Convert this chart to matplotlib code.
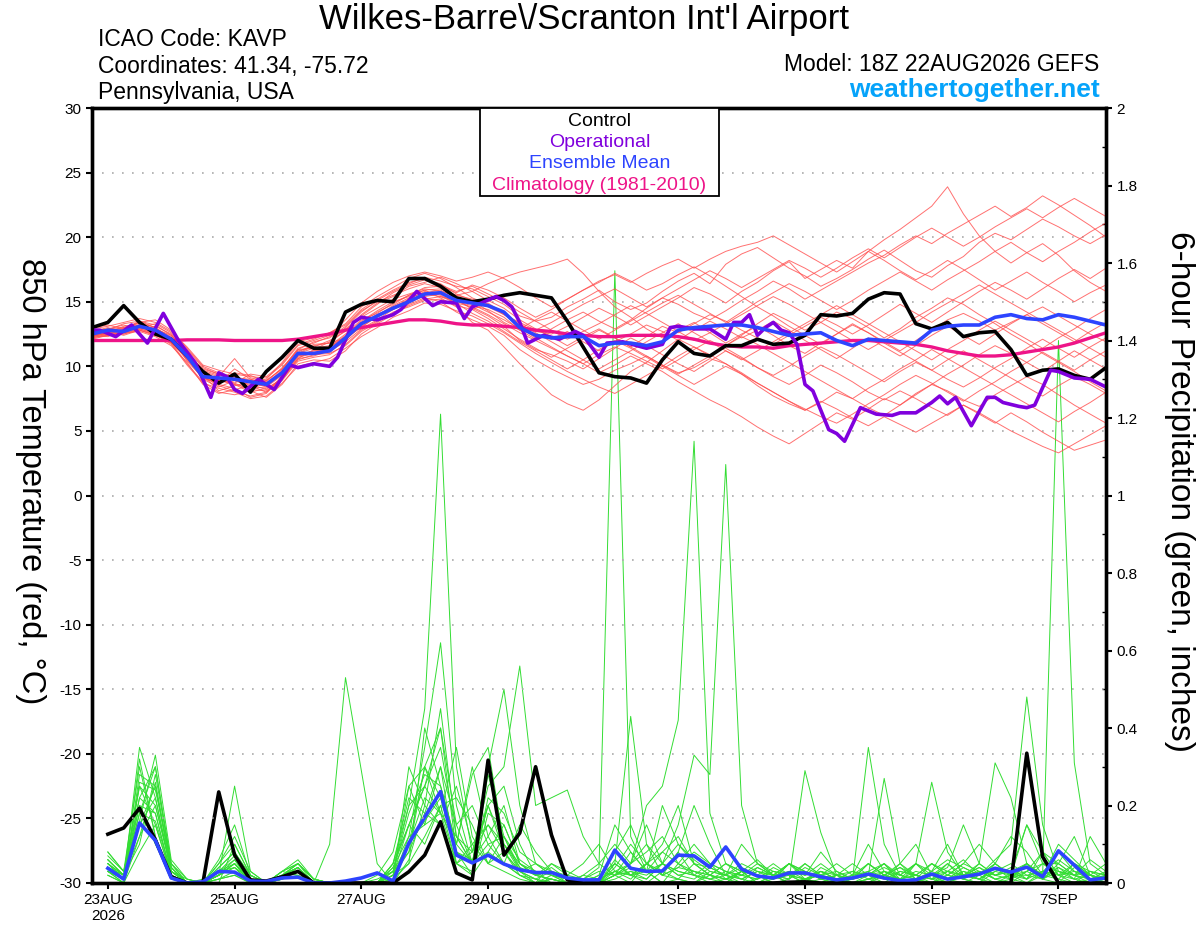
import numpy as np
import pandas as pd
import matplotlib
matplotlib.use("Agg")
import matplotlib.pyplot as plt
from matplotlib.patches import Rectangle

plt.rcParams['font.family'] = ['Liberation Sans', 'DejaVu Sans']

# 6-hourly times for temperature (from model run) and precipitation (6-h totals)
times = pd.date_range("2026-08-22 18:00", periods=65, freq="6h")
precip_times = pd.date_range("2026-08-23 00:00", periods=64, freq="6h")

tick_dates = pd.to_datetime(["2026-08-23", "2026-08-25", "2026-08-27", "2026-08-29",
                             "2026-09-01", "2026-09-03", "2026-09-05", "2026-09-07"])
tick_labels = ["23AUG\n2026", "25AUG", "27AUG", "29AUG", "1SEP", "3SEP", "5SEP", "7SEP"]

# 850 hPa temperature (C)
control_t = [13.0, 13.4, 14.7, 13.4, 12.5, 12.1, 10.8, 9.6, 8.7, 9.4, 8.0, 9.6,
             10.7, 12.0, 11.4, 11.4, 14.2, 14.8, 15.1, 15.0, 16.8, 16.8, 16.2,
             15.3, 15.0, 15.2, 15.5, 15.7, 15.5, 15.3, 13.5, 11.5, 9.5, 9.2,
             9.1, 8.7, 10.5, 11.9, 11.0, 10.8, 11.6, 11.6, 12.1, 11.7, 11.8,
             12.4, 14.0, 13.9, 14.1, 15.2, 15.7, 15.6, 13.3, 12.9, 13.4,
             12.3, 12.6, 12.7, 11.3, 9.3, 9.7, 9.8, 9.3, 9.0, 9.9]
mean_t = [12.5, 12.8, 12.7, 13.1, 12.8, 12.1, 10.8, 9.2, 9.1, 9.0, 8.8, 8.6,
          9.5, 11.0, 11.0, 11.2, 12.2, 13.3, 13.9, 14.5, 15.0, 15.6, 15.7,
          15.1, 14.9, 14.7, 14.2, 13.0, 12.4, 12.2, 12.3, 12.3, 11.6, 11.8,
          11.8, 11.6, 11.9, 12.8, 13.0, 13.1, 13.2, 13.2, 13.0, 12.7, 12.4,
          12.5, 12.6, 12.0, 11.6, 12.1, 12.0, 11.9, 11.8, 12.8, 13.1,
          13.2, 13.2, 13.8, 14.0, 13.7, 13.6, 14.0, 13.8, 13.5, 13.2]
clim_t = [12.0, 12.0, 12.0, 12.0, 12.0, 12.0, 12.05, 12.05, 12.05, 12.0, 12.0, 12.0,
          12.0, 12.1, 12.3, 12.5, 12.8, 13.0, 13.2, 13.4, 13.6, 13.6, 13.5,
          13.3, 13.2, 13.2, 13.1, 13.0, 12.8, 12.7, 12.5, 12.4, 12.3, 12.3,
          12.4, 12.4, 12.4, 12.3, 12.1, 11.8, 11.6, 11.5, 11.5, 11.4, 11.6,
          11.7, 11.8, 11.9, 12.0, 12.0, 11.9, 11.8, 11.7, 11.5, 11.2,
          11.0, 10.8, 10.8, 10.9, 11.1, 11.3, 11.5, 11.8, 12.2, 12.6]

# operational run, hours after 18Z 22AUG
oper_hours = [0, 3, 9, 15, 21, 27, 33, 39, 42, 45, 48, 51, 54, 57, 63, 69, 75, 78, 84, 90,
              93, 99, 102, 108, 114, 117, 123, 129, 132, 138, 141, 144, 153, 156, 159, 162,
              165, 171, 177, 183, 186, 192, 195, 201, 210, 216, 219, 222, 228, 234, 240, 243,
              246, 249, 252, 255, 258, 261, 264, 267, 270, 273, 279, 282, 285, 291, 297, 303,
              306, 312, 318, 321, 324, 327, 333, 339, 342, 345, 351, 354, 357, 363, 366, 372,
              378, 384]
oper_t = [12.8, 12.8, 12.3, 13.2, 11.8, 14.1, 11.9, 10.3, 9.0, 7.6, 9.5, 9.2, 8.2, 7.9, 9.0,
          8.2, 10.1, 9.9, 10.2, 10.0, 10.7, 13.4, 13.8, 13.6, 14.0, 14.4, 15.8, 14.7, 15.0,
          14.9, 13.7, 14.6, 15.4, 15.1, 14.6, 13.4, 11.8, 12.4, 12.1, 12.7, 12.4, 10.7, 11.8,
          11.9, 11.4, 11.7, 13.0, 13.1, 12.9, 12.9, 12.1, 13.4, 13.4, 14.0, 12.4, 13.0, 13.4,
          12.8, 12.6, 11.7, 8.6, 8.1, 5.1, 4.8, 4.2, 6.8, 6.3, 6.2, 6.4, 6.4, 7.2, 7.7, 7.1,
          7.6, 5.4, 7.6, 7.6, 7.2, 6.9, 6.8, 7.0, 9.7, 9.6, 9.1, 9.0, 8.4]

# ensemble members, temperature
members_t = [
    [12.3, 12.6, 12.9, 13.4, 13.0, 12.2, 10.6, 9.0, 8.4, 8.9, 8.6, 8.2, 9.1, 10.6, 11.3, 11.9, 13.0, 14.2, 15.1, 15.8, 16.4, 16.9, 16.6,
     16.2, 16.0, 15.4, 14.8, 13.9, 13.5, 13.8, 14.6, 15.2, 15.9, 15.0, 14.4, 14.9, 15.8, 16.6, 17.2, 16.4, 17.9, 18.7, 19.2, 18.4, 17.6,
     17.0, 16.2, 16.8, 17.5, 18.3, 19.0, 18.2, 17.4, 16.9, 17.8, 18.5, 19.6, 20.3, 19.8, 20.6, 21.4, 20.8, 20.1, 19.5, 20.2],
    [12.7, 12.9, 13.2, 12.8, 12.4, 11.8, 10.2, 8.8, 8.0, 7.8, 8.1, 7.6, 8.6, 10.2, 10.5, 10.4, 11.2, 12.5, 13.3, 14.0, 14.8, 15.3, 15.0,
     14.2, 13.6, 13.1, 12.4, 11.3, 10.5, 9.8, 9.2, 8.6, 9.0, 9.7, 10.2, 10.8, 10.1, 9.5, 9.9, 10.6, 10.2, 9.4, 8.5, 7.7, 7.1,
     6.6, 7.2, 8.0, 7.5, 6.8, 6.2, 7.0, 7.9, 8.6, 8.1, 7.4, 6.9, 7.8, 8.5, 9.2, 8.6, 7.8, 7.0, 6.3, 5.6],
    [12.4, 12.5, 12.8, 13.0, 13.3, 12.6, 11.2, 9.6, 9.2, 10.6, 9.1, 8.9, 9.8, 11.4, 11.8, 12.3, 12.9, 13.8, 14.5, 15.2, 15.6, 16.0, 15.8,
     15.5, 15.8, 16.4, 16.9, 17.3, 17.6, 17.9, 18.3, 17.2, 15.8, 14.6, 13.8, 12.9, 12.2, 12.8, 13.4, 12.6, 11.8, 12.5, 13.1, 12.4, 11.6,
     11.0, 11.8, 12.5, 13.2, 12.6, 11.9, 11.2, 12.0, 12.8, 13.6, 14.1, 13.5, 12.8, 13.4, 14.0, 14.6, 13.9, 13.2, 12.5, 11.9],
    [12.2, 12.4, 12.5, 12.9, 12.6, 11.9, 10.5, 9.2, 8.6, 8.3, 7.6, 7.9, 9.2, 10.8, 11.0, 11.5, 12.4, 13.5, 14.3, 15.0, 15.4, 15.9, 15.3,
     14.6, 13.4, 12.8, 11.5, 10.2, 9.0, 7.8, 7.1, 6.6, 7.4, 8.5, 9.6, 10.3, 11.2, 12.1, 11.5, 10.8, 11.6, 12.4, 13.3, 14.1, 13.5,
     12.8, 13.4, 14.2, 13.7, 13.0, 12.2, 12.9, 13.8, 14.5, 15.3, 14.8, 14.0, 13.3, 12.5, 11.8, 11.0, 10.3, 9.6, 8.8, 8.1],
    [12.6, 12.9, 13.0, 13.4, 13.6, 12.8, 11.4, 10.0, 9.5, 9.2, 8.9, 9.0, 10.3, 11.9, 12.2, 12.6, 13.3, 14.6, 15.4, 16.1, 16.8, 17.2, 16.8,
     16.1, 15.3, 14.8, 14.0, 13.2, 12.7, 12.5, 13.1, 13.8, 14.5, 13.9, 13.2, 13.9, 14.6, 15.3, 16.1, 15.6, 14.9, 15.8, 16.5, 17.4, 18.1,
     16.8, 17.5, 18.2, 17.6, 18.9, 19.8, 20.6, 21.5, 22.4, 23.9, 21.8, 20.1, 18.9, 18.0, 18.8, 19.5, 18.6, 17.4, 16.5, 15.8],
    [13.0, 13.2, 12.9, 13.5, 13.2, 12.4, 11.0, 9.4, 8.9, 8.6, 8.3, 8.4, 9.6, 11.0, 11.6, 11.8, 12.8, 13.9, 14.8, 15.7, 16.3, 16.7, 16.4,
     15.6, 15.1, 14.3, 13.4, 12.8, 12.1, 12.9, 13.6, 14.2, 13.5, 12.9, 13.6, 14.5, 15.3, 14.8, 14.1, 13.6, 14.3, 15.1, 15.8, 16.6, 16.0,
     15.2, 15.9, 16.6, 17.3, 18.0, 18.6, 19.4, 20.1, 19.5, 20.3, 21.0, 21.7, 22.4, 21.6, 22.3, 23.2, 22.5, 21.7, 20.9, 20.0],
    [12.3, 12.7, 12.4, 12.8, 12.5, 12.0, 10.9, 9.5, 9.0, 8.6, 8.0, 8.3, 9.0, 10.5, 10.9, 11.0, 11.6, 12.7, 13.4, 14.2, 14.6, 15.1, 15.2,
     14.7, 14.4, 14.9, 14.1, 13.0, 12.2, 11.5, 10.8, 10.2, 10.9, 11.5, 11.0, 10.4, 9.8, 10.5, 11.3, 12.0, 11.4, 10.7, 9.9, 9.2, 8.6,
     9.3, 10.1, 9.5, 8.8, 8.0, 7.4, 8.1, 7.5, 6.8, 6.2, 7.0, 6.3, 5.6, 6.4, 5.7, 4.9, 4.2, 3.5, 3.9, 4.3],
    [12.8, 12.6, 13.1, 13.3, 12.9, 12.3, 10.4, 9.1, 8.7, 9.5, 9.3, 8.8, 9.9, 11.2, 11.5, 12.0, 12.7, 14.0, 14.9, 15.4, 16.2, 16.5, 16.9,
     16.4, 15.8, 15.1, 14.5, 13.6, 12.9, 12.3, 11.6, 12.3, 12.9, 12.2, 11.5, 12.3, 13.1, 12.6, 13.3, 14.0, 13.5, 12.8, 12.2, 11.7, 12.4,
     13.1, 13.8, 13.2, 12.5, 13.2, 14.0, 14.8, 14.1, 13.4, 14.2, 15.0, 15.8, 16.5, 15.9, 15.2, 16.0, 16.8, 17.5, 16.8, 17.6],
    [12.5, 12.8, 12.6, 13.1, 12.7, 11.9, 10.7, 9.3, 8.1, 8.5, 8.8, 8.4, 9.3, 10.9, 11.2, 11.3, 12.1, 13.1, 13.8, 14.6, 15.2, 15.8, 15.5,
     14.9, 14.6, 14.0, 13.3, 12.6, 12.0, 11.4, 10.8, 10.2, 9.5, 10.1, 10.8, 10.2, 9.6, 8.8, 8.1, 7.4, 6.8, 6.1, 5.3, 4.6, 4.0,
     4.8, 5.6, 6.4, 5.9, 6.7, 7.5, 7.0, 7.8, 8.6, 9.4, 10.1, 10.9, 11.6, 11.0, 10.3, 9.6, 10.4, 11.2, 10.5, 9.8],
    [12.4, 12.3, 12.7, 13.0, 12.8, 12.2, 11.1, 9.7, 9.3, 9.1, 9.0, 8.7, 9.7, 11.3, 11.4, 11.6, 12.5, 13.6, 14.1, 14.9, 15.5, 16.1, 16.2,
     15.7, 16.3, 15.9, 15.3, 14.5, 13.8, 14.4, 15.2, 15.9, 16.6, 17.1, 16.5, 17.2, 17.8, 18.3, 17.6, 18.3, 18.9, 19.3, 19.6, 20.1, 19.4,
     18.7, 18.0, 17.3, 18.1, 18.9, 18.2, 17.4, 16.7, 17.4, 18.2, 17.5, 16.7, 15.9, 16.6, 17.3, 16.5, 15.8, 15.0, 15.7, 16.3],
    [12.6, 12.5, 12.9, 13.2, 12.7, 12.0, 10.9, 9.0, 8.8, 9.2, 8.7, 8.5, 9.4, 10.8, 11.2, 11.1, 12.0, 13.2, 14.0, 14.4, 15.0, 15.4, 15.6,
     15.0, 14.7, 14.4, 13.8, 12.8, 12.5, 12.1, 12.7, 11.9, 11.2, 11.9, 12.5, 13.2, 12.7, 12.0, 12.8, 13.5, 12.9, 12.2, 12.8, 13.5, 12.8,
     12.0, 11.3, 10.6, 11.4, 12.2, 11.5, 10.8, 11.6, 12.4, 13.1, 12.4, 11.7, 12.5, 13.3, 14.0, 13.3, 12.6, 11.9, 12.7, 13.4],
    [12.1, 12.4, 12.6, 12.7, 12.3, 11.6, 10.3, 8.6, 7.9, 8.2, 8.5, 8.0, 8.9, 10.4, 10.7, 10.9, 11.7, 12.8, 13.5, 14.1, 14.7, 15.2, 15.4,
     15.1, 14.5, 13.9, 13.1, 12.0, 11.3, 10.9, 10.4, 9.8, 10.6, 11.4, 12.2, 11.6, 10.9, 10.2, 9.6, 10.4, 11.2, 10.6, 9.9, 9.3, 10.0,
     10.8, 11.5, 10.9, 10.2, 9.5, 8.8, 9.6, 10.3, 9.7, 9.0, 8.4, 9.1, 9.9, 10.6, 11.4, 12.1, 11.4, 10.7, 11.5, 12.2],
    [12.9, 13.1, 13.4, 13.7, 13.4, 12.7, 11.5, 10.1, 9.7, 9.4, 9.2, 9.1, 10.1, 11.6, 12.0, 12.4, 13.6, 14.9, 15.8, 16.5, 17.0, 17.3, 17.0,
     16.6, 16.9, 17.3, 16.8, 16.1, 15.3, 14.6, 15.2, 15.9, 16.5, 17.2, 16.6, 15.9, 16.4, 17.1, 17.7, 17.0, 16.2, 15.4, 14.6, 13.9, 13.1,
     12.4, 11.7, 12.5, 13.3, 12.6, 11.8, 11.1, 10.4, 9.7, 10.5, 11.2, 10.5, 9.8, 9.1, 8.4, 7.7, 8.5, 9.2, 8.6, 7.9],
    [12.3, 12.6, 12.8, 12.9, 13.1, 12.5, 11.0, 9.8, 9.4, 8.9, 8.4, 8.6, 9.5, 11.1, 11.7, 11.8, 12.2, 13.0, 13.9, 14.7, 15.3, 15.7, 15.9,
     15.3, 14.8, 14.2, 13.6, 12.9, 13.6, 14.2, 13.5, 12.8, 12.1, 12.8, 13.5, 14.2, 14.9, 15.5, 14.8, 14.1, 13.4, 14.2, 15.0, 15.7, 16.4,
     15.8, 15.1, 14.4, 15.1, 15.9, 16.6, 17.3, 16.6, 15.9, 16.7, 17.4, 18.1, 18.9, 19.6, 18.8, 18.1, 18.9, 19.6, 20.4, 21.1],
    [12.7, 13.0, 12.6, 12.9, 12.5, 11.7, 10.1, 8.7, 8.3, 8.0, 7.5, 7.7, 8.7, 10.0, 10.3, 10.6, 11.4, 12.3, 13.0, 13.8, 14.3, 14.9, 14.8,
     14.3, 13.9, 13.3, 12.6, 11.8, 11.0, 10.3, 9.6, 9.0, 8.4, 7.9, 8.6, 9.3, 10.0, 10.8, 11.5, 10.9, 10.2, 9.5, 8.7, 8.0, 7.3,
     6.7, 6.1, 5.6, 6.3, 7.1, 7.8, 8.6, 9.3, 8.7, 8.0, 7.3, 8.1, 8.8, 9.6, 10.3, 11.1, 10.4, 9.7, 10.5, 11.2],
    [12.5, 12.7, 13.0, 13.2, 12.9, 12.4, 11.3, 9.9, 9.4, 9.0, 8.5, 8.9, 9.8, 11.3, 11.9, 12.2, 13.1, 14.3, 15.0, 15.5, 16.0, 16.4, 16.1,
     15.4, 15.0, 14.6, 14.0, 13.4, 12.8, 13.4, 14.1, 14.8, 15.4, 16.0, 15.3, 14.6, 15.3, 16.0, 16.7, 17.4, 16.8, 16.1, 16.8, 17.5, 18.2,
     17.6, 16.9, 17.6, 18.4, 19.1, 18.4, 19.2, 20.0, 20.7, 20.0, 19.3, 20.0, 20.8, 21.5, 22.2, 21.5, 22.3, 23.0, 22.3, 21.6],
    [12.2, 12.5, 12.7, 13.0, 12.6, 11.8, 10.6, 9.1, 8.9, 8.7, 8.2, 8.1, 9.0, 10.6, 10.8, 11.2, 11.9, 12.9, 13.6, 14.4, 14.9, 15.5, 15.7,
     15.2, 14.4, 13.7, 12.9, 12.1, 11.4, 10.7, 11.4, 12.1, 12.8, 12.2, 11.5, 10.8, 10.1, 9.4, 10.1, 10.8, 11.6, 12.3, 11.7, 11.0, 10.3,
     9.6, 8.9, 8.2, 7.5, 8.3, 9.0, 9.8, 10.5, 11.3, 10.6, 9.9, 9.2, 8.5, 7.8, 7.1, 6.4, 5.7, 6.5, 7.2, 8.0],
    [12.6, 12.8, 13.3, 13.5, 13.0, 12.1, 10.8, 9.6, 9.0, 8.7, 9.4, 9.2, 10.2, 11.7, 12.1, 12.6, 13.2, 14.4, 15.2, 15.9, 16.5, 16.8, 16.3,
     15.8, 16.2, 15.6, 15.0, 14.2, 13.5, 12.8, 12.1, 12.7, 13.3, 14.0, 14.7, 14.1, 13.4, 12.7, 12.0, 12.6, 13.3, 14.0, 14.7, 15.4, 14.8,
     14.1, 13.4, 12.7, 12.0, 11.3, 12.0, 12.7, 13.4, 14.2, 14.9, 15.6, 16.3, 15.6, 14.9, 14.2, 13.5, 12.8, 12.1, 11.4, 10.7],
    [12.4, 12.6, 12.5, 12.8, 12.4, 11.9, 10.7, 9.3, 8.7, 9.8, 9.0, 8.6, 9.6, 11.0, 11.4, 11.5, 12.3, 13.4, 14.2, 14.8, 15.5, 15.9, 16.0,
     15.5, 15.2, 14.7, 14.1, 13.3, 12.6, 11.9, 11.2, 10.5, 9.8, 10.5, 11.2, 11.9, 12.6, 13.3, 12.6, 11.9, 11.2, 10.5, 11.2, 11.9, 12.6,
     13.3, 14.0, 14.7, 14.0, 13.3, 12.6, 11.9, 11.2, 10.5, 11.3, 12.0, 12.8, 13.5, 12.8, 12.1, 11.4, 12.2, 12.9, 13.7, 14.4],
    [12.3, 12.4, 12.6, 13.1, 12.8, 12.1, 10.9, 9.2, 8.5, 8.1, 7.7, 8.0, 9.2, 10.7, 11.0, 11.4, 12.3, 13.3, 14.0, 14.6, 15.1, 15.6, 15.4,
     14.9, 14.1, 13.5, 12.7, 11.9, 11.2, 10.5, 9.8, 10.5, 11.3, 12.0, 11.4, 10.7, 10.0, 9.3, 8.6, 9.3, 10.0, 9.4, 8.7, 8.0, 7.3,
     6.6, 7.3, 6.7, 6.0, 5.4, 6.1, 5.5, 4.9, 5.6, 6.3, 7.0, 6.4, 5.7, 5.0, 4.4, 3.8, 3.3, 4.0, 4.7, 5.4],
]

# 6-hour precipitation (inches)
control_p = [0.126, 0.142, 0.193, 0.111, 0.016, 0, 0, 0.235, 0.072, 0.008, 0.005, 0.016, 0.03, 0, 0, 0,
             0, 0, 0, 0.029, 0.072, 0.158, 0.026, 0.008, 0.317, 0.072, 0.129, 0.30, 0.124, 0.008, 0, 0,
             0, 0, 0, 0, 0, 0, 0, 0, 0, 0, 0, 0.002, 0.003, 0, 0, 0,
             0, 0, 0, 0, 0, 0, 0, 0, 0, 0, 0.335, 0.068, 0, 0, 0, 0]
mean_p = [0.038, 0.01, 0.155, 0.11, 0.013, 0, 0.003, 0.03, 0.028, 0.005, 0.004, 0.013, 0.015, 0, 0, 0.005,
          0.013, 0.026, 0.005, 0.103, 0.17, 0.236, 0.072, 0.052, 0.072, 0.049, 0.034, 0.027, 0.027, 0.013, 0.008, 0.008,
          0.085, 0.038, 0.03, 0.031, 0.072, 0.07, 0.041, 0.093, 0.036, 0.018, 0.013, 0.026, 0.026, 0.016, 0.008, 0.013,
          0.023, 0.013, 0.006, 0.008, 0.023, 0.01, 0.016, 0.023, 0.038, 0.028, 0.041, 0.016, 0.083, 0.046, 0.008, 0.013]

members_p = [
    [.05, .01, .22, .18, .02, 0, 0, .04, .08, .01, 0, .02, .03, 0, 0, 0,
     0, 0, .05, .2, .45, 1.21, .3, .08, .15, .1, .05, .02, .04, .01, 0, 0,
     .05, .02, 0, .03, .08, .02, 0, .01, 0, .04, .02, 0, 0, .03, .01, 0,
     .02, 0, 0, .05, .01, 0, .02, .04, .01, 0, .03, .08, .02, 0, .01, 0],
    [.03, 0, .15, .25, .04, 0, 0, .02, .05, 0, 0, .03, .05, .01, 0, 0,
     0, 0, .02, .15, .25, .35, .12, .05, .2, .08, .03, 0, .05, .02, .01, .04,
     1.58, .12, .03, 0, .05, .02, .01, 0, .03, 0, .02, .05, .01, 0, .02, 0,
     0, .03, .01, 0, .02, .05, .01, 0, .03, .02, .05, .01, 0, .04, .02, .01],
    [.08, .03, .3, .12, .01, 0, 0, 0, .1, .02, 0, .01, .04, 0, 0, 0,
     0, 0, 0, .3, .2, .15, .25, .1, .05, .12, .03, .01, 0, 0, .02, .05,
     .1, .05, .2, .25, .42, 1.14, .18, .05, .03, .02, 0, .01, .04, .02, 0, .01,
     .05, .02, 0, .01, 0, .03, .06, .02, 0, .01, .05, .02, .04, .01, 0, .02],
    [.04, .02, .18, .3, .05, .01, 0, .05, .12, .03, 0, .02, .03, 0, 0, 0,
     0, 0, .04, .12, .35, .62, .2, .05, .28, .12, .04, .02, .01, 0, 0, .02,
     .05, .43, .1, .05, .15, .33, .28, 1.08, .2, .05, .02, 0, .01, .03, .01, 0,
     0, .02, .04, .01, 0, .02, .01, 0, .05, .02, 0, .03, .01, .05, .02, 0],
    [.02, 0, .12, .2, .03, 0, 0, .03, .04, 0, 0, .01, .02, 0, 0, 0,
     0, 0, .03, .08, .18, .3, .15, .2, .1, .05, .02, 0, .01, 0, 0, 0,
     .02, 0, .05, .03, .01, 0, .02, .05, .03, 0, .01, .02, 0, .04, .02, .01,
     .05, .02, .01, 0, .03, .06, .04, .02, .05, .12, .08, .02, 1.4, .31, .05, .02],
    [.06, .02, .25, .15, .02, 0, 0, .02, .06, .01, 0, .02, .04, 0, .1, .53,
     .29, .05, 0, .1, .3, .4, .15, .05, .3, .5, .2, .05, .02, 0, 0, 0,
     .03, .01, .05, .02, .01, 0, .03, .02, 0, .01, .04, .02, 0, .01, 0, .02,
     .02, .05, 0, .01, .02, 0, .03, .01, 0, .02, .05, .01, .03, .02, 0, .01],
    [.03, .01, .35, .22, .03, 0, 0, .01, .02, 0, 0, .03, .05, .01, 0, 0,
     0, .02, .08, .25, .15, .18, .05, .08, .25, .3, .56, .2, .22, .24, .12, .05,
     .02, .04, .03, 0, .01, .05, .02, 0, .03, .02, 0, 0, .01, .02, 0, 0,
     .01, 0, .03, .02, 0, .01, 0, .02, .04, .01, 0, .02, .01, 0, .03, .02],
    [.05, .02, .1, .28, .05, 0, 0, .06, .15, .02, 0, .01, .03, 0, 0, 0,
     0, 0, .01, .05, .4, .25, .1, .3, .12, .05, .02, .01, .03, .02, .05, .1,
     .03, .05, .1, .02, .04, .08, .05, .03, .01, 0, .02, .05, .02, .08, .03, .01,
     .35, .1, .02, .05, .26, .08, .02, .01, .04, .02, .01, .05, .03, .02, .06, .03],
    [.07, .03, .2, .1, .02, 0, 0, .03, .05, 0, 0, .02, .03, 0, 0, 0,
     0, .01, .03, .2, .25, .4, .08, .02, .18, .15, .05, .03, 0, 0, .01, 0,
     .01, .03, .02, .05, .03, .02, .05, .01, .03, .06, .02, .01, .29, .13, .02, .01,
     .02, .05, .01, .03, .02, .01, .04, .02, .06, .1, .48, .15, .03, .01, .02, .05],
    [.04, .01, .16, .33, .06, .01, 0, .02, .25, .03, 0, .02, .05, .01, 0, 0,
     0, 0, .02, .1, .22, .18, .35, .12, .05, .08, .02, 0, .01, 0, 0, 0,
     .05, .02, .01, .05, .02, .01, .04, .02, .1, .05, .02, .03, .01, 0, .02, .01,
     .02, .27, .05, .01, .02, .03, .01, .05, .31, .22, .05, .02, .1, .06, .02, .01],
    [.03, 0, .08, .15, .02, 0, 0, .01, .03, 0, 0, .02, .04, 0, 0, 0,
     0, 0, .05, .15, .1, .2, .05, .03, .22, .18, .08, .05, .02, 0, 0, .01,
     .08, .15, .05, .1, .2, .05, .02, .01, .03, .02, .01, .05, .03, .01, 0, .02,
     .03, .01, .05, .1, .02, .04, .15, .05, .02, .03, .01, .08, .05, .02, .01, 0],
    [.06, .02, .25, .2, .04, 0, .01, .03, .07, .01, 0, .03, .06, .01, 0, 0,
     0, 0, .02, .08, .3, .22, .08, .05, .1, .12, .06, .03, .02, .01, 0, .02,
     .15, .08, .03, .2, .1, .05, .04, .02, .01, .03, .02, .01, .05, .02, .01, 0,
     .01, .03, .02, .01, .03, .1, .02, .01, .04, .03, .15, .05, .05, .02, .01, .02],
    [.02, 0, .28, .25, .03, 0, 0, .02, .04, .01, 0, .01, .03, 0, 0, 0,
     0, 0, .03, .18, .28, .25, .1, .28, .35, .1, .03, .01, 0, 0, .01, .03,
     .02, .05, .08, .12, .05, .1, .05, .03, .02, .01, .03, .02, .01, .03, .02, .05,
     .02, .01, .03, .02, .01, .02, .05, .03, .01, .02, .04, .02, .08, .03, .01, .03],
    [.05, .01, .32, .12, .02, 0, 0, .05, .1, .02, 0, .02, .04, 0, 0, 0,
     0, 0, .01, .12, .15, .3, .05, .02, .08, .05, .15, .08, .03, 0, .02, .01,
     .03, .02, .05, .08, .05, .03, .02, .01, .02, .04, .02, 0, .01, .02, .05, .02,
     .05, .02, .01, .05, .02, .01, .02, .04, .02, .01, .03, .05, .02, .01, .12, .05],
    [.04, .02, .15, .22, .03, .01, 0, .03, .06, 0, 0, .02, .05, 0, 0, 0,
     0, 0, 0, .06, .2, .45, .12, .05, .2, .25, .1, .02, .05, .03, .01, 0,
     .04, .1, .05, .02, .08, .2, .1, .02, .04, .02, .01, .03, .02, .05, .02, .01,
     .03, .05, .02, .01, .05, .02, .01, .03, .02, .04, .01, .03, .02, .05, .03, .02],
    [.08, .03, .22, .3, .04, 0, 0, .02, .05, .01, 0, .03, .02, 0, 0, 0,
     0, 0, .02, .05, .12, .2, .22, .15, .05, .03, .01, 0, .02, .01, 0, 0,
     .02, .03, .01, .05, .02, .03, .01, .02, .05, .03, .01, .05, .02, .03, .01, .02,
     .1, .03, .01, .02, .05, .02, .05, .1, .05, .02, .15, .08, .02, .03, .01, .02],
    [.03, .01, .2, .18, .02, 0, 0, .01, .02, 0, 0, .02, .04, 0, 0, 0,
     0, 0, .05, .22, .18, .15, .05, .1, .15, .08, .03, .05, .03, .01, 0, 0,
     .02, .05, .15, .05, .03, .02, .01, .03, .02, .05, .03, .02, .03, .01, .02, 0,
     .01, .02, .05, .02, .01, .03, .02, .01, .03, .05, .02, .01, .05, .12, .02, .01],
    [.05, .02, .18, .16, .03, 0, 0, .02, .05, .01, 0, .01, .03, 0, 0, 0,
     0, 0, .03, .1, .16, .22, .08, .06, .12, .2, .05, .02, .01, 0, 0, 0,
     .06, .02, .03, .08, .12, .05, .02, .01, .03, .02, .05, .02, .01, .02, .03, .01,
     .02, .03, .01, .02, .01, .05, .02, .03, .01, .02, .02, .03, .06, .03, .02, .01],
    [.06, .02, .12, .26, .04, 0, 0, .04, .08, .02, 0, .02, .05, .01, 0, 0,
     0, 0, .02, .25, .3, .18, .1, .05, .08, .15, .05, .02, .03, .01, 0, 0,
     .02, .08, .03, .05, .1, .06, .03, .02, .01, .03, .02, .05, .03, .01, .02, .03,
     .01, .02, .04, .02, .05, .03, .02, .05, .02, .03, .05, .02, .08, .05, .02, .01],
    [.04, .01, .26, .24, .05, 0, 0, .02, .04, 0, 0, .02, .03, 0, 0, 0,
     0, 0, .04, .15, .25, .18, .12, .08, .2, .1, .04, .02, .01, 0, 0, .01,
     .03, .02, .05, .02, .04, .03, .02, .05, .02, .01, .03, .02, .05, .02, .01, .03,
     .02, .04, .02, .05, .03, .01, .03, .02, .05, .02, .03, .01, .04, .02, .03, .01],
]

oper_times = times[0] + pd.to_timedelta(oper_hours, unit="h")

fig = plt.figure(figsize=(12, 9.27), dpi=100)
ax = fig.add_axes([92 / 1200, 1 - 883 / 927, 1014 / 1200, 775 / 927])
ax2 = ax.twinx()
ax.set_zorder(ax2.get_zorder() + 1)
ax.patch.set_visible(False)

# precipitation (right axis)
for m in members_p:
    ax2.plot(precip_times, m, color="#33DD33", lw=0.7)
ax2.plot(precip_times, control_p, color="black", lw=2.6)
ax2.plot(precip_times, mean_p, color="#2D44FF", lw=2.6)

# temperature (left axis)
for m in members_t:
    ax.plot(times, m, color="#FF4D4D", lw=0.7, alpha=0.8)
ax.plot(times, clim_t, color="#EE1488", lw=2.4)
ax.plot(times, control_t, color="black", lw=2.6)
ax.plot(oper_times, oper_t, color="#8000DD", lw=2.6)
ax.plot(times, mean_t, color="#2D44FF", lw=2.6)

ax.set_xlim(times[0], times[-1])
ax.set_ylim(-30, 30)
ax2.set_ylim(0, 2)

yt = np.arange(-30, 31, 5)
ax.set_yticks(yt)
ax.set_yticklabels([str(v) for v in yt])
for v in yt[1:-1]:
    ax.axhline(v, color="#AAAAAA", lw=1.2, ls=(0, (1, 5)), zorder=0.5)

pt = np.round(np.arange(0, 2.01, 0.2), 1)
ax2.set_yticks(pt)
ax2.set_yticklabels(["%g" % v for v in pt])
ax2.set_yticks(np.round(np.arange(0.1, 2.0, 0.2), 1), minor=True)

ax.set_xticks(tick_dates)
ax.set_xticklabels(tick_labels)

ax.tick_params(axis="y", labelsize=11, length=4.5, width=1.5, pad=3)
ax2.tick_params(axis="y", labelsize=11, length=4.5, width=1.5, pad=3)
ax2.tick_params(axis="y", which="minor", direction="in", length=3, width=1)
ax.tick_params(axis="x", labelsize=11, length=4.5, width=1.5, pad=2.5)
for a in (ax, ax2):
    for s in a.spines.values():
        s.set_linewidth(2.4)

# both axis titles read top to bottom
fig.text(30 / 1200, 0.481, "850 hPa Temperature (red, °C)", rotation=270,
         ha="center", va="center", fontsize=23.5)
fig.text(1179 / 1200, 0.47, "6-hour Precipitation (green, inches)", rotation=270,
         ha="center", va="center", fontsize=24)

# titles
fig.text(0.487, 1 - 29 / 927, "Wilkes-Barre\\/Scranton Int'l Airport", ha="center",
         va="baseline", fontsize=25)
fig.text(98 / 1200, 1 - 46 / 927, "ICAO Code: KAVP", ha="left", va="baseline", fontsize=16.5)
fig.text(98 / 1200, 1 - 72.5 / 927, "Coordinates: 41.34, -75.72", ha="left", va="baseline", fontsize=16.5)
fig.text(98 / 1200, 1 - 99 / 927, "Pennsylvania, USA", ha="left", va="baseline", fontsize=16.5)
fig.text(1099 / 1200, 1 - 71 / 927, "Model: 18Z 22AUG2026 GEFS", ha="right", va="baseline", fontsize=16.5)
fig.text(1100 / 1200, 1 - 97 / 927, "weathertogether.net", ha="right", va="baseline",
         fontsize=19, fontweight="bold", color="#05A3FA")

# legend box
ax.add_patch(Rectangle((0.3826, 0.8865), 0.2357, 0.1135, transform=ax.transAxes,
                       facecolor="white", edgecolor="black", lw=1.3, zorder=10))
legend_items = [("Control", "black"), ("Operational", "#8000DD"),
                ("Ensemble Mean", "#2D44FF"), ("Climatology (1981-2010)", "#EE1488")]
for i, (txt, col) in enumerate(legend_items):
    ax.text(0.5005, 0.983 - i * 0.0275, txt, transform=ax.transAxes, ha="center",
            va="center", fontsize=14, color=col, zorder=11)

fig.savefig("out.png", dpi=100)
